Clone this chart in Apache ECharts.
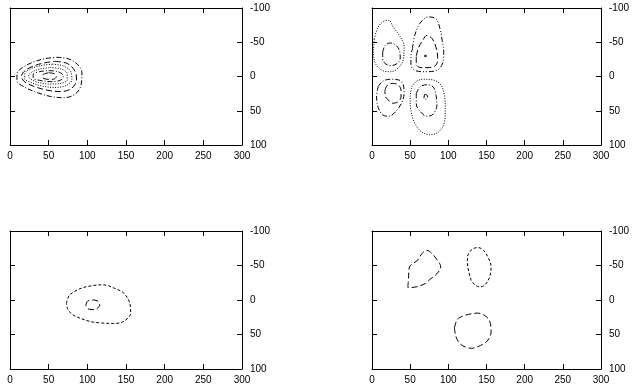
<!DOCTYPE html>
<html>
<head>
<meta charset="utf-8">
<script src="https://cdn.jsdelivr.net/npm/echarts@6/dist/echarts.min.js"></script>
<style>html,body{margin:0;padding:0;background:#fff}#main{width:632px;height:387px}</style>
</head>
<body>
<div id="main"></div>
<script>
// axis ranges / tick steps
var xRange = [0, 300];
var yRange = [-100, 100];
var xStep = 50;
var yStep = 50;

// panel 1 (top left) contours, outer to inner
var p1c1 = [[60,-28],[75,-26],[87,-18],[93,-5],[92,12],[85,25],[70,31],[52,29],[34,23],[18,15],[9,6],[9,-4],[16,-13],[30,-21],[45,-26],[60,-28]];
var p1c2 = [[58,-22],[74,-19],[84,-8],[86,5],[80,17],[66,22],[48,20],[30,14],[18,7],[15,-1],[20,-9],[32,-16],[45,-20],[58,-22]];
var p1c3 = [[55,-18],[70,-15],[79,-6],[80,5],[73,13],[58,16],[42,14],[28,9],[19,3],[19,-4],[26,-11],[40,-16],[55,-18]];
var p1c4 = [[52,-13],[66,-11],[74,-4],[74,5],[66,10],[52,11],[38,9],[27,4],[24,-1],[29,-7],[39,-11],[52,-13]];
var p1c5 = [[50,-8.5],[62,-7],[69,-1],[66,5],[54,7.5],[40,6],[30,2],[30,-3],[38,-7],[50,-8.5]];
var p1c6 = [[50,-5.5],[57,-4],[60,0],[56,4],[48,4],[42,1],[43,-3],[50,-5.5]];

// panel 2 (top right)
var p2tlOut = [[3,-55],[8,-72],[16,-81],[22,-82],[28,-72],[37,-58],[42,-44],[41,-25],[34,-12],[24,-7],[13,-9],[5,-18],[2,-35],[3,-55]];
var p2tlIn = [[14,-35],[17,-45],[24,-49],[31,-46],[36,-38],[37,-27],[33,-19],[25,-16],[17,-19],[14,-27],[14,-35]];
var p2tmOut = [[53,-40],[56,-60],[63,-78],[74,-87],[84,-84],[89,-70],[92,-52],[94,-35],[92,-18],[85,-9],[70,-7],[56,-9],[51,-18],[51,-30],[53,-40]];
var p2tmIn = [[58,-30],[61,-42],[66,-52],[72,-60],[79,-55],[84,-42],[86,-28],[84,-17],[75,-13],[64,-13],[58,-18],[58,-30]];
var p2tmDot = [[69,-31],[71,-31],[71,-29],[69,-29],[69,-31]];
var p2blOut = [[8,15],[14,7],[24,4],[35,5],[41,12],[42,25],[39,38],[32,50],[22,58],[14,56],[8,45],[6,30],[8,15]];
var p2blIn = [[17,20],[20,13],[27,10],[34,12],[38,20],[38,30],[34,37],[27,39],[21,34],[17,27],[17,20]];
var p2bmOut = [[52,15],[58,7],[68,4],[80,5],[90,12],[95,28],[96,50],[94,70],[86,82],[75,85],[64,80],[56,68],[51,50],[50,30],[52,15]];
var p2bmIn = [[58,25],[63,15],[72,12],[80,15],[84,28],[85,42],[80,55],[72,58],[64,52],[58,40],[58,25]];
var p2bmDot = [[69,26],[72,27],[73,30],[71,33],[68,32],[69,26]];

// panel 3 (bottom left)
var p3c1 = [[73,5],[77,-7],[92,-17],[108,-21],[121,-22],[135,-17],[147,-10],[155,5],[156,19],[147,31],[134,34],[115,33],[103,31],[82,22],[75,14],[73,5]];
var p3c2 = [[98,7],[101,1],[108,0],[114,2],[116,7],[113,12],[106,14],[100,12],[98,7]];

// panel 4 (bottom right)
var p4a = [[47,-18],[48,-35],[49,-48],[54,-53],[60,-58],[66,-68],[72,-72],[78,-68],[84,-60],[90,-48],[85,-38],[76,-30],[70,-24],[58,-19],[47,-18]];
var p4b = [[130,-28],[127,-40],[125,-55],[126,-66],[132,-74],[139,-76],[146,-72],[152,-62],[156,-48],[154,-33],[148,-22],[142,-19],[136,-21],[130,-28]];
var p4c = [[108,40],[112,28],[120,23],[130,20],[138,19],[147,22],[154,30],[156,46],[152,58],[142,66],[130,70],[122,68],[115,63],[110,53],[108,40]];

// dash styles
var dashDot = [5, 2, 1, 2];
var dashDotDot = [5, 2, 1, 2, 1, 2];
var longDash = [6, 3];
var shortDash = [3, 2];
var dotted = [1, 1.5];

var panels = [
    {grid: {left: 10, top: 8, width: 232, height: 137},
     lines: [[p1c1, dashDot], [p1c2, longDash], [p1c3, dotted], [p1c4, dotted], [p1c5, dashDot], [p1c6, longDash]]},
    {grid: {left: 372, top: 8, width: 234, height: 137},
     lines: [[p2tlOut, dotted], [p2tlIn, dashDot], [p2tmOut, dashDotDot], [p2tmIn, longDash], [p2tmDot, 'solid'],
             [p2blOut, dashDot], [p2blIn, longDash], [p2bmOut, dotted], [p2bmIn, dashDot], [p2bmDot, dashDot]]},
    {grid: {left: 10, top: 231, width: 232, height: 138},
     lines: [[p3c1, shortDash], [p3c2, longDash]]},
    {grid: {left: 372, top: 231, width: 234, height: 138},
     lines: [[p4a, longDash], [p4b, shortDash], [p4c, longDash]]}
];

var font = {color: '#000', fontSize: 10, fontFamily: 'Liberation Sans, Arial, sans-serif'};
var axisLine = {show: true, onZero: false, lineStyle: {color: '#000', width: 1}};
var tick = {show: true, inside: true, length: 5, lineStyle: {color: '#000'}};

var grids = [], xAxes = [], yAxes = [], series = [];
panels.forEach(function (p, i) {
    grids.push(p.grid);
    // bottom + top x axes
    xAxes.push({type: 'value', gridIndex: i, position: 'bottom', min: xRange[0], max: xRange[1], interval: xStep,
        axisLine: axisLine, axisTick: tick, splitLine: {show: false},
        axisLabel: Object.assign({margin: 6, showMinLabel: true, showMaxLabel: true}, font)});
    xAxes.push({type: 'value', gridIndex: i, position: 'top', min: xRange[0], max: xRange[1], interval: xStep,
        axisLine: axisLine, axisTick: tick, splitLine: {show: false}, axisLabel: {show: false}});
    // right + left y axes
    yAxes.push({type: 'value', gridIndex: i, position: 'right', inverse: true, min: yRange[0], max: yRange[1], interval: yStep,
        axisLine: axisLine, axisTick: tick, splitLine: {show: false},
        axisLabel: Object.assign({margin: 8, showMinLabel: true, showMaxLabel: true}, font)});
    yAxes.push({type: 'value', gridIndex: i, position: 'left', inverse: true, min: yRange[0], max: yRange[1], interval: yStep,
        axisLine: axisLine, axisTick: tick, splitLine: {show: false}, axisLabel: {show: false}});

    p.lines.forEach(function (l) {
        series.push({
            type: 'line',
            xAxisIndex: 2 * i,
            yAxisIndex: 2 * i,
            data: l[0],
            showSymbol: false,
            symbol: 'none',
            smooth: 0.35,
            silent: true,
            lineStyle: {color: '#000', width: 1, type: l[1]}
        });
    });
});

var myChart = echarts.init(document.getElementById('main'));
myChart.setOption({
    animation: false,
    backgroundColor: '#fff',
    grid: grids,
    xAxis: xAxes,
    yAxis: yAxes,
    series: series
});
</script>
</body>
</html>
